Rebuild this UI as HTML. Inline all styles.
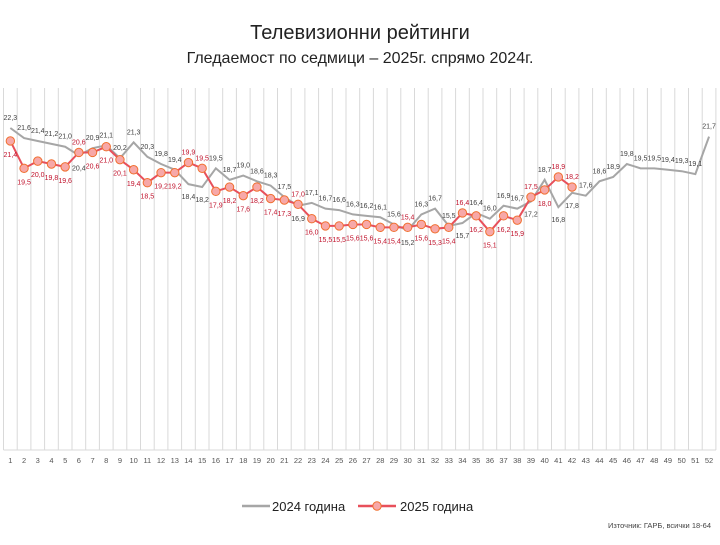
<!DOCTYPE html>
<html><head><meta charset="utf-8"><style>
body{margin:0;background:#fff;width:720px;height:540px;overflow:hidden;font-family:"Liberation Sans",sans-serif;}
</style></head><body>
<svg id="s" width="720" height="540" xmlns="http://www.w3.org/2000/svg" font-family="Liberation Sans, sans-serif">
<text x="360" y="39" text-anchor="middle" font-size="20" fill="#222">Телевизионни рейтинги</text>
<text x="360" y="63" text-anchor="middle" font-size="16" fill="#222">Гледаемост по седмици – 2025г. спрямо 2024г.</text>
<line x1="242" y1="506" x2="270" y2="506" stroke="#a6a6a6" stroke-width="2.5"/>
<text x="272" y="511" font-size="13" fill="#222">2024 година</text>
<line x1="358" y1="506" x2="396" y2="506" stroke="#e8505b" stroke-width="2.5"/>
<circle cx="377" cy="506" r="4.2" fill="#f7a8a8" stroke="#f07030" stroke-width="1"/>
<text x="400" y="511" font-size="13" fill="#222">2025 година</text>
<text x="711" y="528" text-anchor="end" font-size="7.5" fill="#444">Източник: ГАРБ, всички 18-64</text>
<g id="g"></g>
</svg>
<script>
var a=[22.3,21.6,21.4,21.2,21.0,20.4,20.9,21.1,20.2,21.3,20.3,19.8,19.4,18.4,18.2,19.5,18.7,19.0,18.6,18.3,17.5,16.9,17.1,16.7,16.6,16.3,16.2,16.1,15.6,15.2,16.3,16.7,15.5,15.7,16.4,16.0,16.9,16.7,17.2,18.7,16.8,17.8,17.6,18.6,18.9,19.8,19.5,19.5,19.4,19.3,19.1,21.7];
var b=[21.4,19.5,20.0,19.8,19.6,20.6,20.6,21.0,20.1,19.4,18.5,19.2,19.2,19.9,19.5,17.9,18.2,17.6,18.2,17.4,17.3,17.0,16.0,15.5,15.5,15.6,15.6,15.4,15.4,15.4,15.6,15.3,15.4,16.4,16.2,15.1,16.2,15.9,17.5,18.0,18.9,18.2];
var grayBelow={6:1,14:1,15:1,22:1,30:1,34:1,39:1,41:1,42:1};
var redAbove={6:1,14:1,15:1,22:1,30:1,34:1,39:1,41:1,42:1};
function X(n){return 3.5+13.7*(n-0.5);}
function Y(v){return 128+(22.3-v)*14.4;}
var h='';
for(var i=0;i<=52;i++){var x=3.5+13.7*i;h+='<line x1="'+x+'" y1="88" x2="'+x+'" y2="450" stroke="#d9d9d9" stroke-width="1"/>';}
h+='<line x1="3.5" y1="450" x2="716" y2="450" stroke="#d9d9d9"/>';
for(var n=1;n<=52;n++)h+='<text x="'+X(n)+'" y="463" text-anchor="middle" font-size="7.5" fill="#555">'+n+'</text>';
var p=a.map(function(v,i){return X(i+1)+','+Y(v)}).join(' ');
h+='<polyline points="'+p+'" fill="none" stroke="#a6a6a6" stroke-width="2"/>';
var q=b.map(function(v,i){return X(i+1)+','+Y(v)}).join(' ');
h+='<polyline points="'+q+'" fill="none" stroke="#e8505b" stroke-width="2"/>';
b.forEach(function(v,i){h+='<circle cx="'+X(i+1)+'" cy="'+Y(v)+'" r="4.2" fill="#f7a8a8" stroke="#f07030" stroke-width="1"/>';});
function f(v){return v.toFixed(1).replace('.',',');}
a.forEach(function(v,i){var n=i+1;var y=grayBelow[n]?Y(v)+15:Y(v)-8;h+='<text x="'+X(n)+'" y="'+y+'" text-anchor="middle" font-size="7" fill="#404040">'+f(v)+'</text>';});
b.forEach(function(v,i){var n=i+1;var y=redAbove[n]?Y(v)-8:Y(v)+16;h+='<text x="'+X(n)+'" y="'+y+'" text-anchor="middle" font-size="7" fill="#c0102a">'+f(v)+'</text>';});
document.getElementById('g').innerHTML=h;
</script>
</body></html>
